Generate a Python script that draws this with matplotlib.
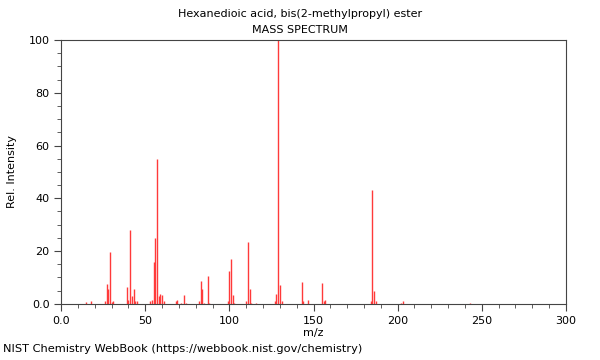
import matplotlib
matplotlib.use('Agg')
import matplotlib.pyplot as plt
from matplotlib.ticker import MultipleLocator, FuncFormatter

# peak list
mz = [15, 18, 26, 27, 28, 29, 30, 31, 39, 40, 41, 42, 43, 44, 45,
      53, 54, 55, 56, 57, 58, 59, 60, 61, 68, 69, 71, 73, 74,
      82, 83, 84, 85, 87, 88, 99, 100, 101, 102, 103, 110, 111, 112, 113,
      116, 127, 128, 129, 130, 131, 143, 144, 147, 155, 156, 157,
      184, 185, 186, 187, 202, 203, 243]
intensity = [0.8, 0.9, 1.0, 7.7, 5.5, 19.8, 0.8, 1.0, 6.2, 1.5, 28.0, 3.0, 5.7, 1.0, 1.0,
             1.0, 1.5, 16.0, 25.0, 55.0, 2.8, 3.8, 3.3, 1.0, 1.0, 1.5, 0.5, 3.4, 0.5,
             1.0, 8.8, 5.5, 0.5, 10.6, 0.5, 1.0, 12.6, 17.0, 3.4, 0.5, 1.0, 23.4, 5.5, 0.5,
             0.5, 1.0, 3.7, 100.0, 7.0, 1.0, 8.2, 1.0, 1.5, 8.0, 1.0, 1.3,
             1.0, 43.0, 5.0, 1.0, 0.5, 1.0, 0.3]

title_lines = ['Hexanedioic acid, bis(2-methylpropyl) ester', 'MASS SPECTRUM']

fig = plt.figure(figsize=(6, 3.6), dpi=100)
ax = fig.add_axes([0.102, 0.156, 0.841, 0.733])

ax.vlines(mz, 0, intensity, colors='#ff3a3a', linewidth=1)

ax.set_xlim(0, 300)
ax.set_ylim(0, 100)
ax.xaxis.set_major_locator(MultipleLocator(50))
ax.xaxis.set_minor_locator(MultipleLocator(10))
ax.yaxis.set_major_locator(MultipleLocator(20))
ax.yaxis.set_minor_locator(MultipleLocator(5))
fmt = FuncFormatter(lambda v, p: '0.0' if v == 0 else '%d' % v)
ax.xaxis.set_major_formatter(fmt)
ax.yaxis.set_major_formatter(fmt)
ax.tick_params(which='major', length=5, labelsize=8, color='#444444')
ax.tick_params(which='minor', length=3, color='#444444')
for s in ax.spines.values():
    s.set_color('#444444')

ax.set_xlabel('m/z', fontsize=8, labelpad=2)
ax.set_ylabel('Rel. Intensity', fontsize=8, labelpad=8)
fig.text(0.5, 0.962, title_lines[0], ha='center', va='center', fontsize=8)
fig.text(0.5, 0.916, title_lines[1], ha='center', va='center', fontsize=8)
fig.text(0.005, 0.018, 'NIST Chemistry WebBook (https://webbook.nist.gov/chemistry)',
         ha='left', va='bottom', fontsize=8.2)

fig.savefig('out.png', dpi=100)
